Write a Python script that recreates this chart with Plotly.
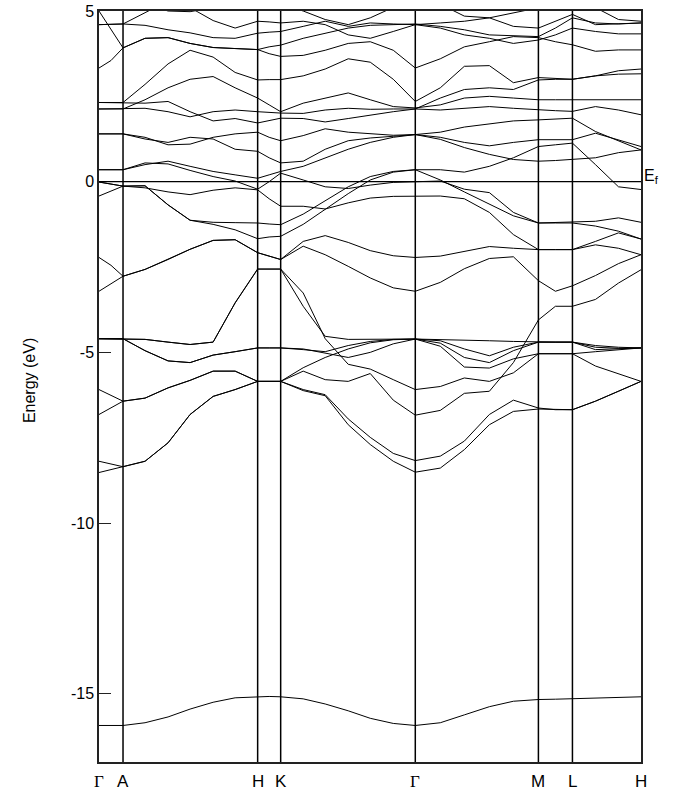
import plotly.graph_objects as go

# ---- k-path (arbitrary path-length units) ----
k_nodes = [0.0, 24.0, 158.5, 181.5, 316.0, 439.0, 473.0, 541.5]
k_labels = ["Γ", "A", "H", "K", "Γ", "M", "L", "H"]
k_grid = [0, 12, 24, 46, 69, 91, 114, 136, 158.5, 170, 181.5,
          204, 226, 249, 271, 294, 316, 341, 365, 390, 414,
          439, 456, 473, 496, 519, 541.5]

y_ticks = [5, 0, -5, -10, -15]

# ---- band energies (eV) on k_grid ----
core_bands = [
    [-15.93,-15.93,-15.93, -15.85,-15.68,-15.45,-15.25,-15.12, -15.08, -15.08, -15.09,
     -15.15,-15.30,-15.50,-15.72,-15.87, -15.93, -15.85,-15.62,-15.38,-15.22, -15.17, -15.16, -15.15, -15.13,-15.11, -15.09],
]

valence_bands = [
    [-8.52,-8.43,-8.35, -8.19,-7.65,-6.82,-6.29,-6.09, -5.85, -5.85, -5.85,
     -6.12,-6.27,-7.12,-7.70,-8.19, -8.51, -8.39,-7.85,-7.12,-6.73, -6.66, -6.68, -6.68, -6.43,-6.14, -5.85],
    [-8.19,-8.27,-8.35, -8.19,-7.65,-6.82,-6.29,-6.09, -5.85, -5.85, -5.85,
     -6.09,-6.24,-6.95,-7.49,-7.96, -8.17, -8.04,-7.60,-6.82,-6.40, -6.63, -6.68, -6.68, -6.43,-6.14, -5.85],
    [-6.82,-6.62,-6.43, -6.34,-6.04,-5.82,-5.55,-5.55, -5.85, -5.85, -5.85,
     -5.55,-5.80,-5.85,-5.62,-6.40, -6.84, -6.70,-6.20,-6.14,-5.30, -4.05, -3.65, -3.65, -3.45,-2.97, -2.58],
    [-6.09,-6.25,-6.43, -6.34,-6.04,-5.82,-5.55,-5.55, -5.85, -5.85, -5.85,
     -5.45,-5.15,-4.90,-4.72,-4.63, -4.61, -4.73,-5.15,-5.30,-4.95, -4.70, -4.70, -4.70, -4.92,-4.90, -4.87],
    [-4.60,-4.60,-4.60, -4.62,-4.70,-4.77,-4.70,-3.55, -2.56, -2.56, -2.56,
     -3.26,-4.60,-5.35,-5.49,-5.80, -6.09, -6.00,-5.75,-5.85,-5.60, -5.04, -5.04, -5.04, -5.40,-5.62, -5.85],
    [-4.60,-4.60,-4.60, -4.62,-4.70,-4.77,-4.70,-3.55, -2.56, -2.56, -2.56,
     -3.65,-4.53,-4.62,-4.62,-4.61, -4.61, -4.82,-5.43,-5.46,-5.19, -5.04, -5.04, -5.04, -4.98,-4.92, -4.87],
    [-4.60,-4.60,-4.60, -4.95,-5.25,-5.30,-5.08,-4.98, -4.87, -4.87, -4.87,
     -4.90,-5.03,-5.15,-5.00,-4.75, -4.61, -4.62,-4.63,-4.66,-4.68, -4.70, -4.70, -4.70, -4.80,-4.85, -4.87],
    [-4.60,-4.60,-4.60, -4.95,-5.25,-5.30,-5.08,-4.98, -4.87, -4.87, -4.87,
     -4.92,-4.98,-4.80,-4.68,-4.62, -4.61, -4.66,-4.90,-5.10,-4.85, -4.70, -4.70, -4.70, -4.85,-4.88, -4.87],
    [-3.21,-3.00,-2.77, -2.57,-2.28,-1.98,-1.72,-1.70, -2.08, -2.18, -2.28,
     -1.89,-2.14,-2.48,-2.82,-3.11, -3.21, -2.95,-2.55,-2.25,-2.20, -2.90, -3.21, -3.05, -2.75,-2.40, -2.14],
    [-2.22,-2.45,-2.77, -2.57,-2.28,-1.98,-1.72,-1.70, -2.08, -2.18, -2.28,
     -1.75,-1.58,-1.78,-2.02,-2.17, -2.22, -2.18,-2.05,-1.90,-1.95, -1.99, -1.99, -1.99, -1.75,-1.50, -1.68],
    [-0.42,-0.28,-0.13, -0.18,-0.30,-0.38,-0.25,-0.18, -0.24, -0.50, -0.72,
     -0.72,-0.80,-0.62,-0.48,-0.43, -0.42, -0.42,-0.50,-0.90,-1.55, -1.99, -1.99, -1.99, -1.85,-1.95, -2.14],
    [-0.01,-0.06,-0.13, -0.12,-0.68,-1.13,-1.19,-1.20, -1.21, -1.24, -1.26,
     -0.95,-0.55,-0.15,0.15,0.30, 0.35, 0.05,-0.30,-0.65,-1.00, -1.21, -1.20, -1.19, -1.16,-1.06, -1.19],
    [-0.01,-0.06,-0.13, -0.12,-0.68,-1.13,-1.25,-1.41, -1.67, -1.62, -1.60,
     -1.25,-0.80,-0.35,0.05,0.28, 0.35, 0.35,0.28,0.45,0.70, 1.03, 1.08, 1.13, 0.50,-0.15, -0.23],
]

conduction_bands = [
    [0.35,0.35,0.35, 0.55,0.52,0.33,0.15,0.02, -0.22, 0.00, 0.25,
     0.05,-0.15,-0.20,-0.10,-0.02, 0.00, 0.02,-0.22,-0.32,-0.90, -1.21, -1.21, -1.21, -1.30,-1.45, -1.68],
    [0.35,0.35,0.35, 0.50,0.60,0.45,0.30,0.20, 0.10, 0.20, 0.30,
     0.45,0.70,0.95,1.15,1.30, 1.38, 1.24,1.00,0.80,0.65, 0.60, 0.62, 0.65, 0.70,0.85, 0.93],
    [1.40,1.40,1.40, 1.25,1.15,1.30,1.25,0.95, 0.89, 0.70, 0.55,
     0.60,0.95,1.20,1.28,1.33, 1.38, 1.30,1.15,1.05,1.15, 1.23, 1.23, 1.23, 1.42,1.23, 1.03],
    [1.40,1.40,1.40, 1.30,1.08,1.10,1.30,1.40, 1.45, 1.30, 1.20,
     1.35,1.55,1.45,1.40,1.36, 1.38, 1.45,1.60,1.70,1.78, 1.81, 1.83, 1.86, 1.47,1.20, 0.93],
    [2.13,2.13,2.13, 2.15,2.05,1.90,2.05,2.10, 2.05, 2.02, 2.01,
     2.00,2.10,2.15,2.12,2.13, 2.13, 2.10,2.15,2.20,2.15, 2.10, 2.08, 2.06, 2.20,2.10, 1.96],
    [2.13,2.13,2.13, 2.40,2.75,3.00,3.08,2.75, 2.45, 2.25, 2.05,
     2.30,2.45,2.60,2.40,2.20, 2.16, 2.25,2.45,2.50,2.45, 2.40, 2.40, 2.40, 2.40,2.42, 2.40],
    [2.32,2.32,2.32, 2.85,3.45,3.85,3.65,3.20, 2.98, 2.99, 2.99,
     3.10,3.30,3.60,3.50,3.00, 2.35, 2.75,3.38,3.40,2.90, 3.05, 3.02, 3.00, 3.10,3.15, 3.16],
    [2.32,2.32,2.32, 2.30,2.35,2.05,1.78,1.85, 1.72, 1.80, 1.86,
     1.85,1.75,1.85,1.95,2.05, 2.13, 2.45,2.70,2.75,2.70, 2.98, 3.00, 3.00, 3.10,3.25, 3.30],
    [3.33,3.55,3.92, 4.20,4.22,4.05,3.93,3.90, 3.87, 3.75, 3.67,
     3.70,3.85,4.05,4.10,3.85, 3.33, 3.60,3.95,4.10,4.25, 4.22, 4.10, 4.01, 3.82,3.86, 3.86],
    [5.00,4.45,3.92, 4.20,4.22,4.05,3.93,3.90, 3.87, 3.95, 4.00,
     4.20,4.35,4.50,4.58,4.60, 4.62, 4.55,4.45,4.30,4.28, 4.25, 4.50, 4.80, 4.65,4.62, 4.65],
    [4.60,4.60,4.62, 4.58,4.45,4.36,4.22,4.20, 4.35, 4.38, 4.40,
     4.55,4.70,4.55,4.65,4.62, 4.60, 4.65,4.70,4.80,4.55, 4.50, 4.70, 4.90, 4.60,4.62, 4.65],
    [4.60,4.60,4.62, 4.95,5.30,5.10,4.72,4.50, 4.70, 4.68, 4.65,
     4.70,4.60,4.30,4.20,4.40, 4.60, 4.50,4.30,4.20,4.05, 4.15, 4.30, 4.50, 4.40,4.33, 4.33],
    [5.60,5.50,5.40, 5.20,5.00,4.98,5.10,5.30, 5.40, 5.30, 5.20,
     5.00,4.75,4.60,4.80,5.10, 5.40, 5.20,4.85,4.80,4.95, 5.10, 5.20, 5.30, 5.10,4.75, 4.70],
]

fig = go.Figure()
for band in core_bands + valence_bands + conduction_bands:
    fig.add_trace(go.Scatter(x=k_grid, y=band, mode="lines",
                             line=dict(color="black", width=1),
                             hoverinfo="skip", showlegend=False))

for k in k_nodes[1:-1]:
    fig.add_vline(x=k, line=dict(color="black", width=1.5), layer="above")
fig.add_hline(y=0, line=dict(color="black", width=1.2))

for k, lab in zip(k_nodes, k_labels):
    fam = "Liberation Serif, DejaVu Serif, serif" if lab == "Γ" else "Liberation Sans, Arial, sans-serif"
    fig.add_annotation(x=k, xref="x", y=0, yref="paper", yshift=-19,
                       text=lab, showarrow=False, xanchor="center", yanchor="middle",
                       font=dict(family=fam, size=17, color="black"))

fig.add_annotation(x=k_nodes[-1], xref="x", y=0, yref="y", xshift=1, yshift=5,
                   text="E<sub>f</sub>", showarrow=False, xanchor="left", yanchor="middle",
                   font=dict(family="Liberation Sans, Arial, sans-serif", size=16, color="black"))

fig.add_annotation(x=-0.128, xref="paper", y=0.508, yref="paper", text="Energy (eV)",
                   textangle=-90, showarrow=False, xanchor="center", yanchor="middle",
                   font=dict(family="Liberation Sans, Arial, sans-serif", size=16, color="black"))

fig.update_layout(
    width=675, height=791,
    margin=dict(l=99, r=34, t=11, b=29, autoexpand=False),
    paper_bgcolor="white", plot_bgcolor="white",
    xaxis=dict(range=[k_nodes[0], k_nodes[-1]], showgrid=False, zeroline=False,
               showticklabels=False, ticks="", showline=True, mirror=True,
               linecolor="#222", linewidth=1.5, automargin=False),
    yaxis=dict(range=[-17, 5], tickvals=y_ticks, ticktext=[str(v) for v in y_ticks],
               ticks="inside", ticklen=12, tickwidth=1, tickcolor="#222",
               showgrid=False, zeroline=False, showline=True, mirror=True,
               linecolor="#222", linewidth=1.5, automargin=False,
               tickfont=dict(family="Liberation Sans, Arial, sans-serif", size=16, color="black")),
)

fig.write_html("out.html")
